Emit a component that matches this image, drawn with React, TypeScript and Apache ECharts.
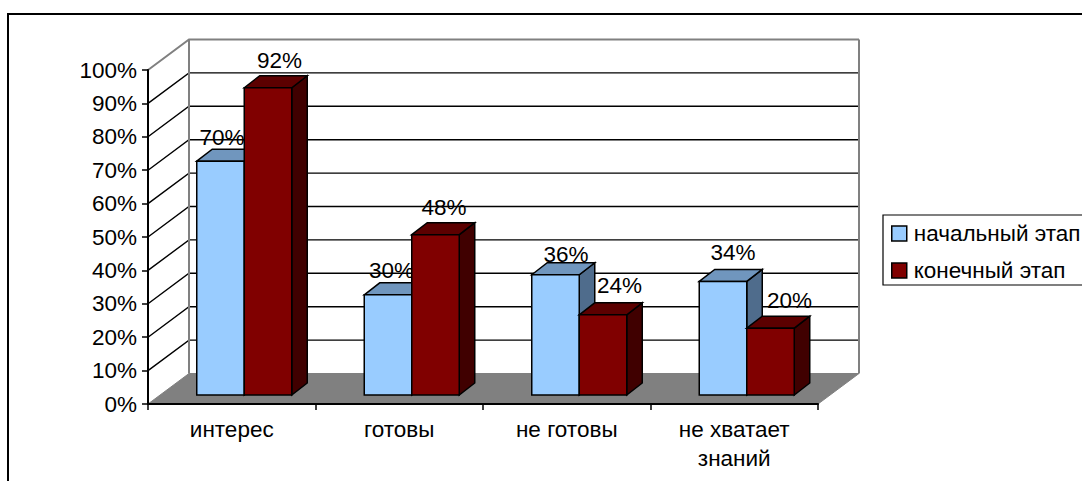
import React, { useEffect, useRef } from "react";
import * as echarts from "echarts";

const categories = ["интерес", "готовы", "не готовы", "не хватает\nзнаний"];
const stageNames = ["начальный этап", "конечный этап"];
const initialStage = [70, 30, 36, 34];
const finalStage = [92, 48, 24, 20];
const gridTicks = [10, 20, 30, 40, 50, 60, 70, 80, 90, 100];

const FONT = "'Liberation Sans', Arial, sans-serif";
const WALL_DX = 41;
const WALL_DY = 30.5;
const BAR_SHIFT_X = 12.5;
const BAR_SHIFT_Y = 9;
const BAR_DX = 15.5;
const BAR_DY = 12;
const BAR_BAND_SHARE = 0.2836;
const labelShift = [
  [[1.5, -24], [3.5, -24], [10.5, -20], [10, -29]],
  [[11.5, -27], [8.5, -27], [16.5, -29], [19, -28]],
];
const palettes = [
  { front: "#99CCFF", top: "#7096BE", side: "#4F6C8C" },
  { front: "#800000", top: "#5C0000", side: "#400000" },
];

const renderWalls = (params: any, api: any) => {
  const cs = params.coordSys;
  const y = api.coord([0, api.value(1)])[1];
  const top = api.value(1) === 100;
  const color = top ? "#808080" : "#000000";
  const lineWidth = top ? 2 : 1.4;
  const x0 = cs.x;
  const x1 = cs.x + cs.width;
  const children: any[] = [
    {
      type: "polyline",
      shape: { points: [[x0, y], [x0 + WALL_DX, y - WALL_DY], [x1 + WALL_DX, y - WALL_DY]] },
      style: { stroke: color, lineWidth, fill: "none" },
    },
  ];
  if (params.dataIndex === 0) {
    const by = cs.y + cs.height;
    children.push({
      type: "polygon",
      shape: { points: [[x0, by], [x1, by], [x1 + WALL_DX, by - WALL_DY], [x0 + WALL_DX, by - WALL_DY]] },
      style: { fill: "#808080", stroke: "#808080", lineWidth: 1 },
      z2: 5,
    });
    children.push({
      type: "polyline",
      shape: { points: [[x0 + WALL_DX, by - WALL_DY], [x0 + WALL_DX, cs.y - WALL_DY]] },
      style: { stroke: "#808080", lineWidth: 2, fill: "none" },
      z2: 6,
    });
    children.push({
      type: "polyline",
      shape: { points: [[x1 + WALL_DX, by - WALL_DY], [x1 + WALL_DX, cs.y - WALL_DY]] },
      style: { stroke: "#808080", lineWidth: 2, fill: "none" },
      z2: 6,
    });
  }
  return { type: "group", children };
};

const makeBarRenderer = (stage: number) => (params: any, api: any) => {
  const idx = api.value(0);
  const value = api.value(1);
  const [cx, vy] = api.coord([idx, value]);
  const [, zy] = api.coord([idx, 0]);
  const w = api.size([1, 0])[0] * BAR_BAND_SHARE;
  const p = palettes[stage];
  const left = cx + BAR_SHIFT_X + (stage === 0 ? -w : 0);
  const right = left + w;
  const t = vy - BAR_SHIFT_Y;
  const b = zy - BAR_SHIFT_Y;
  const edge = { stroke: "#000000", lineWidth: 1.5, lineJoin: "miter" };
  const shift = labelShift[stage][idx];
  return {
    type: "group",
    children: [
      {
        type: "polygon",
        shape: { points: [[right, t], [right + BAR_DX, t - BAR_DY], [right + BAR_DX, b - BAR_DY], [right, b]] },
        style: { fill: p.side, ...edge },
        z2: 10,
      },
      {
        type: "polygon",
        shape: { points: [[left, t], [left + BAR_DX, t - BAR_DY], [right + BAR_DX, t - BAR_DY], [right, t]] },
        style: { fill: p.top, ...edge },
        z2: 10,
      },
      {
        type: "polygon",
        shape: { points: [[left, t], [right, t], [right, b], [left, b]] },
        style: { fill: p.front, ...edge },
        z2: 10,
      },
      {
        type: "text",
        x: (left + right) / 2 + shift[0],
        y: t + shift[1],
        style: {
          text: value + "%",
          fill: "#000000",
          font: `22.5px ${FONT}`,
          align: "center",
          verticalAlign: "middle",
        },
        z2: 100,
      },
    ],
  };
};

const axisLabel = { color: "#000000", fontFamily: FONT };

export default function App() {
  const ref = useRef<HTMLDivElement>(null);
  useEffect(() => {
    document.body.style.margin = "0";
    const chart = echarts.init(ref.current!, undefined, { renderer: "svg" });
    chart.setOption({
      animation: false,
      backgroundColor: "#ffffff",
      graphic: [
        {
          type: "rect",
          x: 8,
          y: 14,
          shape: { x: 0, y: 0, width: 1200, height: 600 },
          style: { fill: "none", stroke: "#000000", lineWidth: 2 },
          silent: true,
          z: -1,
        },
      ],
      grid: { left: 148, top: 70, width: 670, height: 334 },
      legend: {
        orient: "vertical",
        left: 883,
        top: 215,
        padding: [7, 12, 3, 8],
        itemWidth: 15,
        itemHeight: 15,
        itemGap: 14,
        borderColor: "#000000",
        borderWidth: 1.2,
        selectedMode: false,
        textStyle: { color: "#000000", fontFamily: FONT, fontSize: 22.5, padding: [0, 0, 0, 2] },
        data: [
          { name: stageNames[0], icon: "rect", itemStyle: { color: palettes[0].front, borderColor: "#000", borderWidth: 1.5 } },
          { name: stageNames[1], icon: "rect", itemStyle: { color: palettes[1].front, borderColor: "#000", borderWidth: 1.5 } },
        ],
      },
      xAxis: {
        type: "category",
        data: categories,
        z: 20,
        axisLine: { lineStyle: { color: "#000000", width: 2 } },
        axisTick: { show: true, length: 6, lineStyle: { color: "#000000", width: 1.5 } },
        axisLabel: { ...axisLabel, fontSize: 22.5, margin: 11, lineHeight: 29, interval: 0 },
      },
      yAxis: {
        type: "value",
        min: 0,
        max: 100,
        interval: 10,
        z: 20,
        splitLine: { show: false },
        axisLine: { show: true, lineStyle: { color: "#000000", width: 2 } },
        axisTick: { show: true, length: 6, lineStyle: { color: "#000000", width: 1.5 } },
        axisLabel: { ...axisLabel, fontSize: 22.5, margin: 11, formatter: "{value}%" },
      },
      series: [
        {
          type: "custom",
          name: "walls",
          silent: true,
          renderItem: renderWalls,
          data: gridTicks.map((v) => [0, v]),
          z: 1,
        },
        {
          type: "custom",
          name: stageNames[0],
          renderItem: makeBarRenderer(0),
          data: initialStage.map((v, i) => [i, v]),
          itemStyle: { color: palettes[0].front },
          z: 2,
        },
        {
          type: "custom",
          name: stageNames[1],
          renderItem: makeBarRenderer(1),
          data: finalStage.map((v, i) => [i, v]),
          itemStyle: { color: palettes[1].front },
          z: 3,
        },
      ],
    });
    return () => chart.dispose();
  }, []);
  return (
    <div
      ref={ref}
      style={{ position: "absolute", left: 0, top: 0, width: 1082, height: 481, overflow: "hidden" }}
    />
  );
}
